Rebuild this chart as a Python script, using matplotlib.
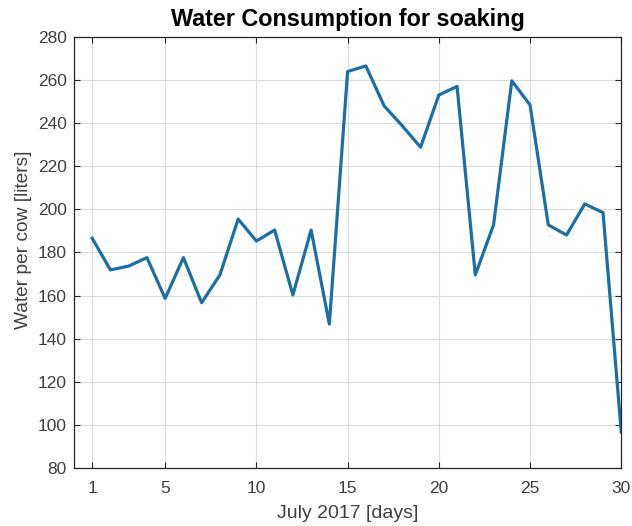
import matplotlib
matplotlib.use('Agg')
import matplotlib.pyplot as plt
import numpy as np

# Data
days = np.arange(1, 31)
water = [186.6, 171.9, 173.7, 177.6, 158.7, 177.6, 156.7, 169.6, 195.5, 185.3,
         190.4, 160.3, 190.4, 146.8, 263.9, 266.5, 248.0, 238.7, 228.8, 253.0,
         257.0, 169.6, 192.8, 259.6, 248.4, 192.8, 188.1, 202.5, 198.5, 96.8]
xticks = [1, 5, 10, 15, 20, 25, 30]
yticks = list(range(80, 281, 20))

plt.rcParams['font.family'] = ['Liberation Sans', 'DejaVu Sans']

fig = plt.figure(figsize=(6.32, 5.26), dpi=100)
ax = fig.add_axes([0.117, 0.110, 0.866, 0.820])

ax.plot(days, water, color='#1a6fa6', linewidth=2.3)

ax.set_xlim(0, 30)
ax.set_ylim(80, 280)
ax.set_xticks(xticks)
ax.set_yticks(yticks)
ax.grid(True, color='#dcdcdc', linewidth=0.8)
ax.set_axisbelow(True)

ax.tick_params(direction='in', top=True, right=True, labelsize=12.5,
               colors='#262626', labelcolor='#404040', length=4)
ax.tick_params(axis='x', pad=9)
ax.tick_params(axis='y', pad=5)
for s in ax.spines.values():
    s.set_color('#262626')
    s.set_linewidth(0.9)

ax.set_xlabel('July 2017 [days]', fontsize=14, color='#404040', labelpad=7)
ax.set_ylabel('Water per cow [liters]', fontsize=13.8, color='#404040')
ax.yaxis.set_label_coords(-0.077, 0.53)
ax.set_title('Water Consumption for soaking', fontsize=16.8, fontweight='bold', pad=8)

fig.savefig('out.png', dpi=100)
